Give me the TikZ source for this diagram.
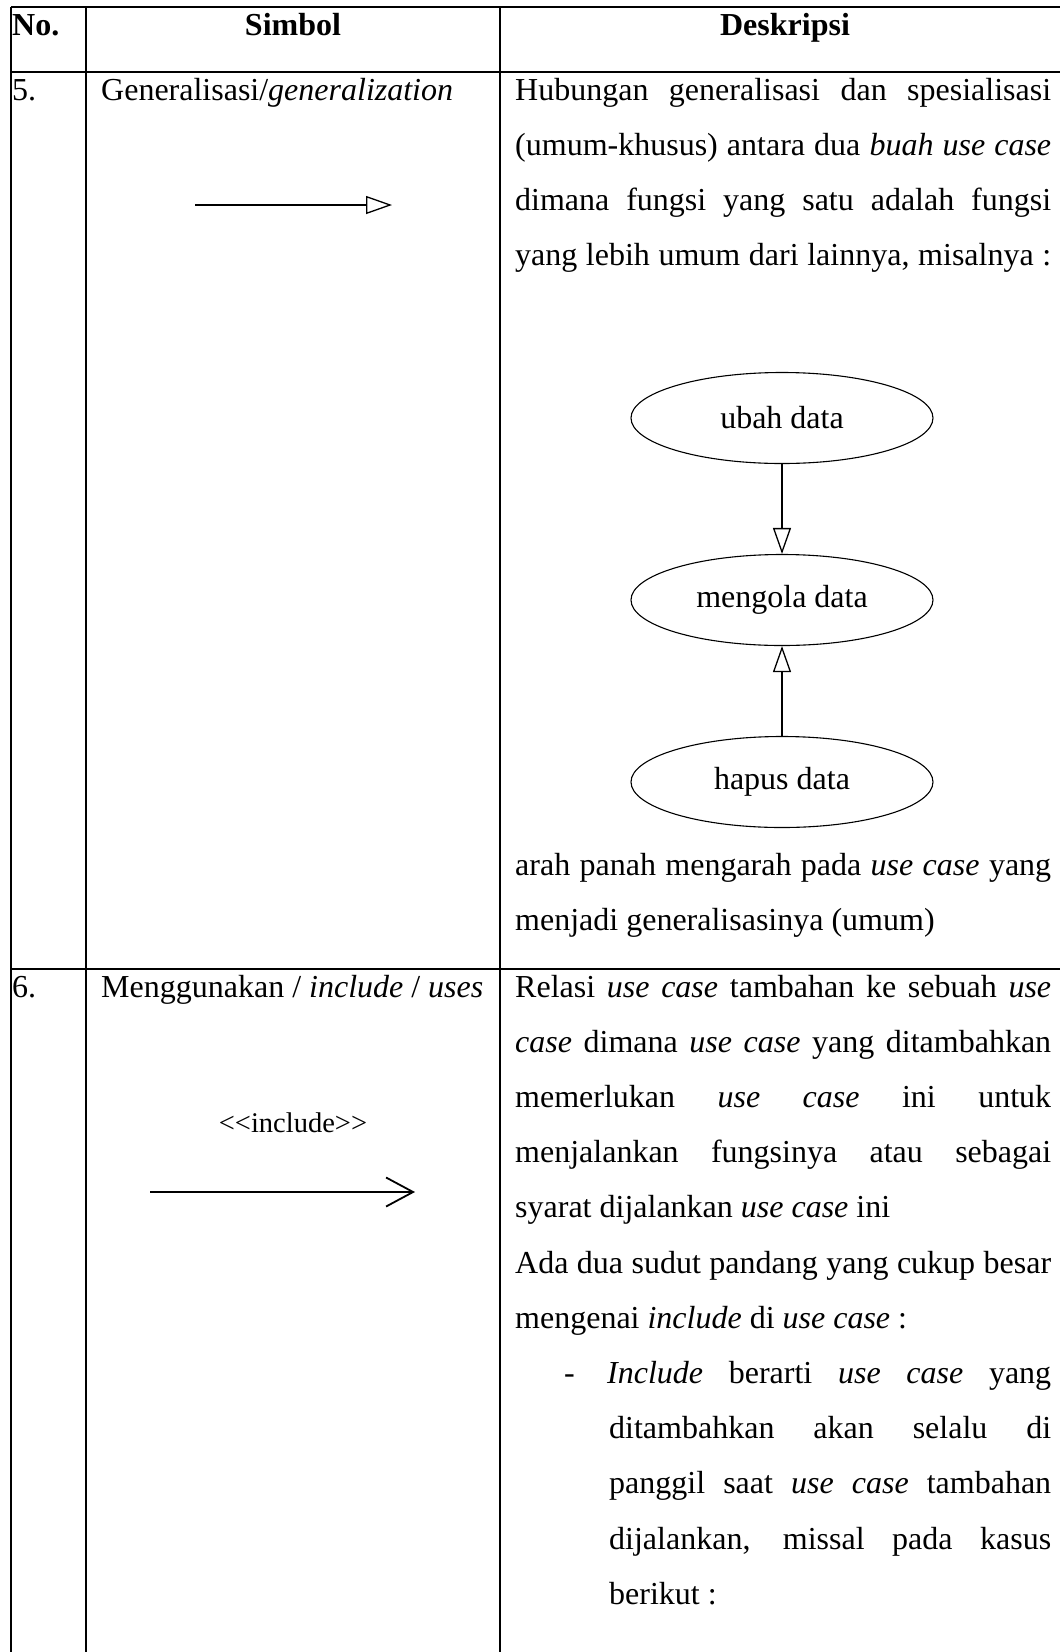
\documentclass[tikz,border=0pt]{standalone}
\usepackage{fontspec}
\setmainfont{Liberation Serif}
\usetikzlibrary{arrows.meta,shapes.geometric}
\newcommand\bodyfont{\fontsize{32pt}{55pt}\selectfont}
\newcommand\smallfont{\fontsize{28.5pt}{34pt}\selectfont}
\newcommand\jl[2]{\makebox[#1][s]{#2}}
\begin{document}
\begin{tikzpicture}[x=1pt,y=-1pt,
  rule/.style={line width=1.7pt},
  txt/.style={anchor=base west,inner sep=0pt,font=\bodyfont},
  hdr/.style={anchor=base,inner sep=0pt,font=\bodyfont\bfseries},
  uc/.style={ellipse,draw,line width=1.1pt,minimum width=302pt,minimum height=91pt,inner sep=0pt,font=\bodyfont},
  genarrow/.style={line width=1.3pt,-{Triangle[open,length=26pt,width=18pt,line width=1.3pt]}},
  incarrow/.style={line width=1.8pt,-{Straight Barb[length=27pt,width=29pt,line width=1.8pt]}}
]
\useasboundingbox (0,0) rectangle (1060,1652);
\fill[white] (0,0) rectangle (1060,1652);
% table rules
\draw[rule] (11,7) -- (1064,7);
\draw[rule] (11,72) -- (1064,72);
\draw[rule] (11,969) -- (1064,969);
\draw[rule] (11,7) -- (11,1656);
\draw[rule] (86,7) -- (86,1656);
\draw[rule] (500,7) -- (500,1656);
% header
\node[txt,font=\bodyfont\bfseries] (hno) at (12,35) {No.};
\node[hdr] (hsym) at (293,35) {Simbol};
\node[hdr] (hdesc) at (785,35) {Deskripsi};
% row 5
\node[txt] (n5) at (12,100) {5.};
\node[txt] (s5) at (101,100) {Generalisasi/\textit{generalization}};
\coordinate (g1) at (195,205);
\coordinate (g2) at (392,205);
\draw[genarrow] (g1) -- (g2);
\node[txt] (d51) at (515,100) {\jl{536pt}{Hubungan generalisasi dan spesialisasi}};
\node[txt] (d52) at (515,155.2) {\jl{536pt}{(umum-khusus) antara dua \textit{buah use case}}};
\node[txt] (d53) at (515,210.4) {\jl{536pt}{dimana fungsi yang satu adalah fungsi}};
\node[txt] (d54) at (515,265.6) {\jl{536pt}{yang lebih umum dari lainnya, misalnya :}};
\node[uc] (ubah) at (782,418) {ubah data};
\node[uc] (mengola) at (782,600) {mengola data};
\node[uc] (hapus) at (782,782) {hapus data};
\draw[genarrow] (ubah.south) -- (mengola.north);
\draw[genarrow] (hapus.north) -- (mengola.south);
\node[txt] (d55) at (515,875) {\jl{536pt}{arah panah mengarah pada \textit{use case} yang}};
\node[txt] (d56) at (515,930) {menjadi generalisasinya (umum)};
% row 6
\node[txt] (n6) at (12,997) {6.};
\node[txt] (s6) at (101,997) {Menggunakan / \textit{include} / \textit{uses}};
\node[inner sep=0pt,font=\smallfont] (inctext) at (293,1123) {<\kern0pt<include>\kern0pt>};
\coordinate (i1) at (150,1192);
\coordinate (i2) at (415,1192);
\draw[incarrow] (i1) -- (i2);
\node[txt] (d61) at (515,997) {\jl{536pt}{Relasi \textit{use case} tambahan ke sebuah \textit{use}}};
\node[txt] (d62) at (515,1052.2) {\jl{536pt}{\textit{case} dimana \textit{use case} yang ditambahkan}};
\node[txt] (d63) at (515,1107.4) {\jl{536pt}{memerlukan \textit{use case} ini untuk}};
\node[txt] (d64) at (515,1162.6) {\jl{536pt}{menjalankan fungsinya atau sebagai}};
\node[txt] (d65) at (515,1217.8) {syarat dijalankan \textit{use case} ini};
\node[txt] (d66) at (515,1273) {\jl{536pt}{Ada dua sudut pandang yang cukup besar}};
\node[txt] (d67) at (515,1328.2) {mengenai \textit{include} di \textit{use case} :};
\node[txt] (bul) at (564,1383.4) {-};
\node[txt] (d68) at (607,1383.4) {\jl{444pt}{\textit{Include} berarti \textit{use case} yang}};
\node[txt] (d69) at (609,1438.6) {\jl{442pt}{ditambahkan akan selalu di}};
\node[txt] (d6a) at (609,1493.8) {\jl{442pt}{panggil saat \textit{use case} tambahan}};
\node[txt] (d6b) at (609,1549) {\jl{442pt}{dijalankan, missal pada kasus}};
\node[txt] (d6c) at (609,1604.2) {berikut :};
\end{tikzpicture}
\end{document}
